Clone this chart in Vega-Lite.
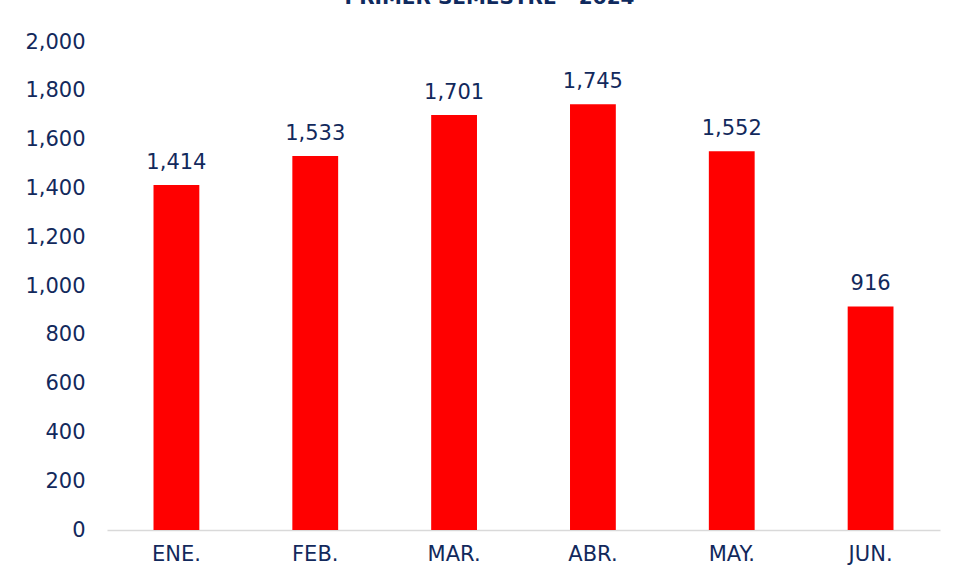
{
  "$schema": "https://vega.github.io/schema/vega-lite/v6.json",
  "autosize": {"type": "none"},
  "width": 833,
  "height": 488,
  "padding": {"left": 107, "top": 42, "right": 15, "bottom": 54},
  "background": "white",
  "title": {
    "text": "PRIMER SEMESTRE - 2024",
    "font": "DejaVu Sans",
    "fontSize": 20,
    "fontWeight": "bold",
    "color": "#0f2a5e",
    "anchor": "middle",
    "baseline": "bottom",
    "offset": 3,
    "dx": -34
  },
  "data": {
    "values": [
      {"mes": "ENE.", "valor": 1414},
      {"mes": "FEB.", "valor": 1533},
      {"mes": "MAR.", "valor": 1701},
      {"mes": "ABR.", "valor": 1745},
      {"mes": "MAY.", "valor": 1552},
      {"mes": "JUN.", "valor": 916}
    ]
  },
  "encoding": {
    "x": {
      "field": "mes",
      "type": "nominal",
      "sort": null,
      "scale": {"paddingInner": 0.67, "paddingOuter": 0.335},
      "axis": {
        "title": null,
        "labelAngle": 0,
        "labelFont": "DejaVu Sans",
        "labelFontSize": 21,
        "labelColor": "#12295c",
        "labelPadding": 13,
        "ticks": false,
        "domainColor": "#d9d9d9",
        "domainWidth": 1.5,
        "grid": false
      }
    },
    "y": {
      "field": "valor",
      "type": "quantitative",
      "scale": {"domain": [0, 2000], "nice": false},
      "axis": {
        "title": null,
        "values": [0, 200, 400, 600, 800, 1000, 1200, 1400, 1600, 1800, 2000],
        "format": ",d",
        "labelFont": "DejaVu Sans",
        "labelFontSize": 21,
        "labelColor": "#12295c",
        "labelPadding": 22,
        "ticks": false,
        "domain": false,
        "grid": false
      }
    }
  },
  "layer": [
    {"mark": {"type": "bar", "color": "#ff0000"}},
    {
      "mark": {
        "type": "text",
        "font": "DejaVu Sans",
        "fontSize": 21,
        "color": "#12295c",
        "baseline": "alphabetic",
        "dy": -16
      },
      "encoding": {"text": {"field": "valor", "type": "quantitative", "format": ",d"}}
    }
  ],
  "config": {"view": {"stroke": null}}
}
